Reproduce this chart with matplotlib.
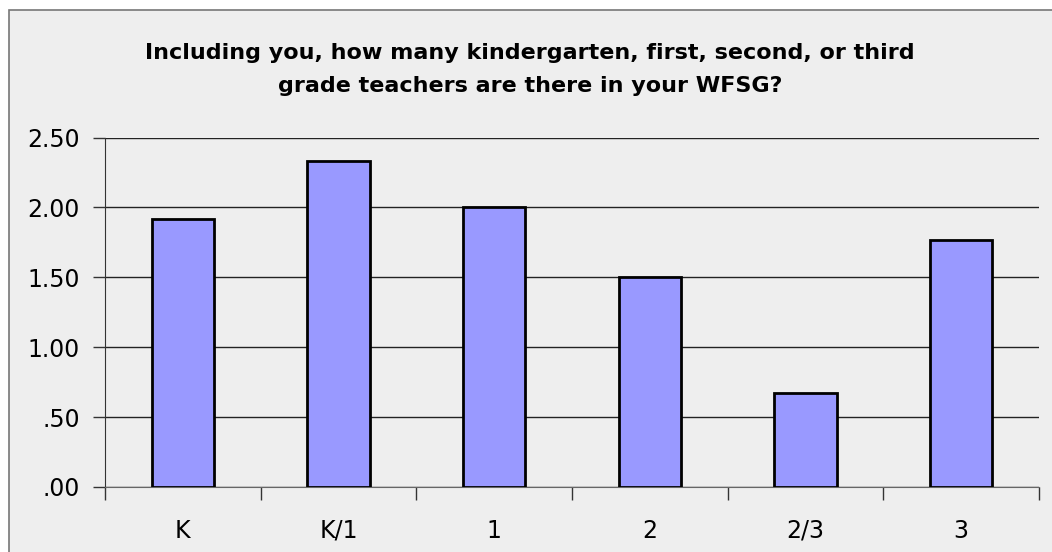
import numpy as np
import matplotlib
matplotlib.use("Agg")
from matplotlib import pyplot as plt
from matplotlib.patches import Rectangle

plt.rcParams['font.family'] = ['DejaVu Sans']

categories = ["K", "K/1", "1", "2", "2/3", "3"]
values = [1.92, 2.33, 2.00, 1.50, 0.67, 1.77]
yticks = [0.0, 0.5, 1.0, 1.5, 2.0, 2.5]
ylabels = [".00", ".50", "1.00", "1.50", "2.00", "2.50"]
title = "Including you, how many kindergarten, first, second, or third\ngrade teachers are there in your WFSG?"

W, H = 1052, 552
fig = plt.figure(figsize=(W / 100, H / 100), dpi=100)
fig.patch.set_facecolor("white")

# chart area panel with grey border (runs off right and bottom edges)
fig.patches.append(Rectangle((8.5 / W, -0.1), 1.2, 1.1 - 9.5 / H, transform=fig.transFigure,
                             facecolor="#eeeeee", edgecolor="#777777", lw=1.2, zorder=-5))

ax = fig.add_axes([105 / W, 1 - 487 / H, (1039 - 105) / W, (487 - 137.5) / H])
ax.set_zorder(2)
ax.set_facecolor("#eeeeee")

x = np.arange(len(categories))
ax.bar(x, values, width=0.4, color="#9999ff", edgecolor="black", lw=2, zorder=3)

ax.set_xlim(-0.5, len(categories) - 0.5)
ax.set_ylim(0, 2.5)
ax.set_yticks(yticks)
ax.set_yticklabels(ylabels)
ax.yaxis.grid(True, color="#222222", lw=1)
ax.set_axisbelow(True)

ax.set_xticks(x)
ax.set_xticklabels(categories)
ax.set_xticks(np.arange(len(categories) + 1) - 0.5, minor=True)
ax.tick_params(axis="x", which="major", length=0, pad=23, labelsize=17)
ax.tick_params(axis="x", which="minor", length=9, width=1, color="#333333")
ax.tick_params(axis="y", length=9, width=1, color="#333333", labelsize=17, pad=9)

for s in ["top", "right"]:
    ax.spines[s].set_visible(False)
ax.spines["left"].set_color("#333333")
ax.spines["bottom"].set_color("#666666")

fig.text(530 / W, 1 - 69.5 / H, title, ha="center", va="center", fontsize=16,
         fontweight="bold", linespacing=1.8)

fig.savefig("out.png", dpi=100)
